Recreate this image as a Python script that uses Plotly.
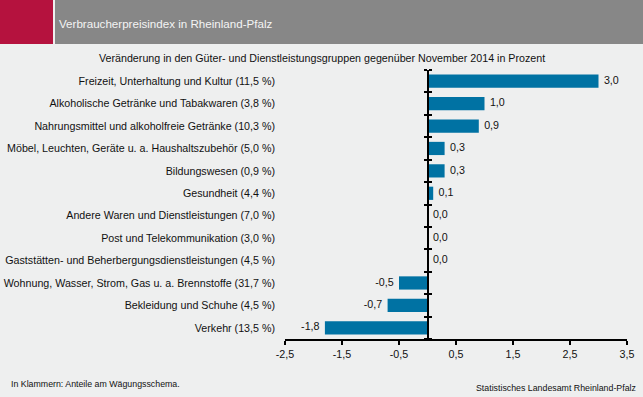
import plotly.graph_objects as go

categories = [
    "Freizeit, Unterhaltung und Kultur (11,5 %)",
    "Alkoholische Getränke und Tabakwaren (3,8 %)",
    "Nahrungsmittel und alkoholfreie Getränke (10,3 %)",
    "Möbel, Leuchten, Geräte u. a. Haushaltszubehör (5,0 %)",
    "Bildungswesen (0,9 %)",
    "Gesundheit (4,4 %)",
    "Andere Waren und Dienstleistungen (7,0 %)",
    "Post und Telekommunikation (3,0 %)",
    "Gaststätten- und Beherbergungsdienstleistungen (4,5 %)",
    "Wohnung, Wasser, Strom, Gas u. a. Brennstoffe (31,7 %)",
    "Bekleidung und Schuhe (4,5 %)",
    "Verkehr (13,5 %)",
]
values = [3.0, 1.0, 0.9, 0.3, 0.3, 0.1, 0.0, 0.0, 0.0, -0.5, -0.7, -1.8]
x_ticks = [-2.5, -1.5, -0.5, 0.5, 1.5, 2.5, 3.5]
x_ticktext = ["-2,5", "-1,5", "-0,5", "0,5", "1,5", "2,5", "3,5"]

title = "Verbraucherpreisindex in Rheinland-Pfalz"
subtitle = "Veränderung in den Güter- und Dienstleistungsgruppen gegenüber November 2014 in Prozent"
note = "In Klammern: Anteile am Wägungsschema."
source = "Statistisches Landesamt Rheinland-Pfalz"

W, H = 643, 397
ML, MR, MT, MB = 285, 16, 70, 58
PW, PH = W - ML - MR, H - MT - MB

def px(xp):
    return (xp - ML) / PW

def py(yp):
    return (H - MB - yp) / PH

BG = "#EEEFEF"
BAR = "#0072A3"
TXT = "#111111"
FONT = "Liberation Sans, Arial, sans-serif"

labels = [f"{v:.1f}".replace(".", ",") for v in values]
pos = ["middle right" if v >= 0 else "middle left" for v in values]

fig = go.Figure()
fig.add_trace(go.Bar(
    x=values, y=categories, orientation="h",
    marker=dict(color=BAR, line=dict(width=0)),
    hoverinfo="skip", showlegend=False,
))
fig.add_trace(go.Scatter(
    x=values, y=categories, mode="markers+text", text=labels, textposition=pos,
    marker=dict(size=7, opacity=0),
    textfont=dict(size=10.7, color=TXT, family=FONT),
    hoverinfo="skip", showlegend=False, cliponaxis=False,
))
# invisible traces to define categories for the tick axes at zero
for ax in ["y2", "y3"]:
    fig.add_trace(go.Scatter(
        x=values, y=categories, mode="markers", yaxis=ax,
        marker=dict(opacity=0), hoverinfo="skip", showlegend=False,
    ))

zero_pos = (0 - x_ticks[0]) / (x_ticks[-1] - x_ticks[0])
cat_order = list(reversed(categories))

common_y = dict(type="category", categoryorder="array", categoryarray=cat_order,
                range=[-0.5, len(categories) - 0.5], automargin=False)

fig.update_layout(
    width=W, height=H,
    margin=dict(l=ML, r=MR, t=MT, b=MB, autoexpand=False),
    paper_bgcolor=BG, plot_bgcolor=BG,
    separators=",.",
    font=dict(family=FONT, size=11, color=TXT),
    bargap=0.41,
    xaxis=dict(range=[x_ticks[0], x_ticks[-1]], tickvals=x_ticks, ticktext=x_ticktext,
               automargin=False,
               showgrid=False, zeroline=False, showline=True, linecolor="black",
               linewidth=2, ticks="outside", ticklen=4, tickwidth=1.5, tickcolor="black",
               tickfont=dict(size=10.7, color=TXT)),
    yaxis=dict(**common_y, showgrid=False, zeroline=False, showline=False, ticks="",
               ticklabelstandoff=9, tickfont=dict(size=10.7, color=TXT)),
    yaxis2=dict(**common_y, overlaying="y", anchor="free", position=zero_pos,
                showgrid=False, zeroline=False, showline=True, linecolor="black",
                linewidth=1.5, ticks="outside", tickson="boundaries", ticklen=3,
                tickwidth=1.5, tickcolor="black", showticklabels=False),
    yaxis3=dict(**common_y, overlaying="y", anchor="free", position=zero_pos, side="right",
                showgrid=False, zeroline=False, showline=False,
                ticks="outside", tickson="boundaries", ticklen=3,
                tickwidth=1.5, tickcolor="black", showticklabels=False),
)

fig.add_shape(type="rect", xref="paper", yref="paper",
              x0=px(0), x1=px(53), y0=py(44), y1=py(0),
              fillcolor="#B5123E", line=dict(width=0), layer="above")
fig.add_shape(type="rect", xref="paper", yref="paper",
              x0=px(55), x1=px(W), y0=py(44), y1=py(0),
              fillcolor="#878787", line=dict(width=0), layer="above")

fig.add_annotation(text=title, xref="paper", yref="paper", x=px(57), y=py(23),
                   xanchor="left", yanchor="middle", showarrow=False,
                   font=dict(size=11.6, color="#F4F4F4", family=FONT))
fig.add_annotation(text=subtitle, xref="paper", yref="paper", x=px(322), y=py(58),
                   xanchor="center", yanchor="middle", showarrow=False,
                   font=dict(size=10.7, color=TXT, family=FONT))
fig.add_annotation(text=note, xref="paper", yref="paper", x=px(9), y=py(384),
                   xanchor="left", yanchor="middle", showarrow=False,
                   font=dict(size=8.8, color=TXT, family=FONT))
fig.add_annotation(text=source, xref="paper", yref="paper", x=px(638), y=py(388),
                   xanchor="right", yanchor="middle", showarrow=False,
                   font=dict(size=8.8, color=TXT, family=FONT))

fig.write_html("out.html", config={"displayModeBar": False},
               post_script="document.body.style.margin='0';document.body.style.overflow='hidden';")
